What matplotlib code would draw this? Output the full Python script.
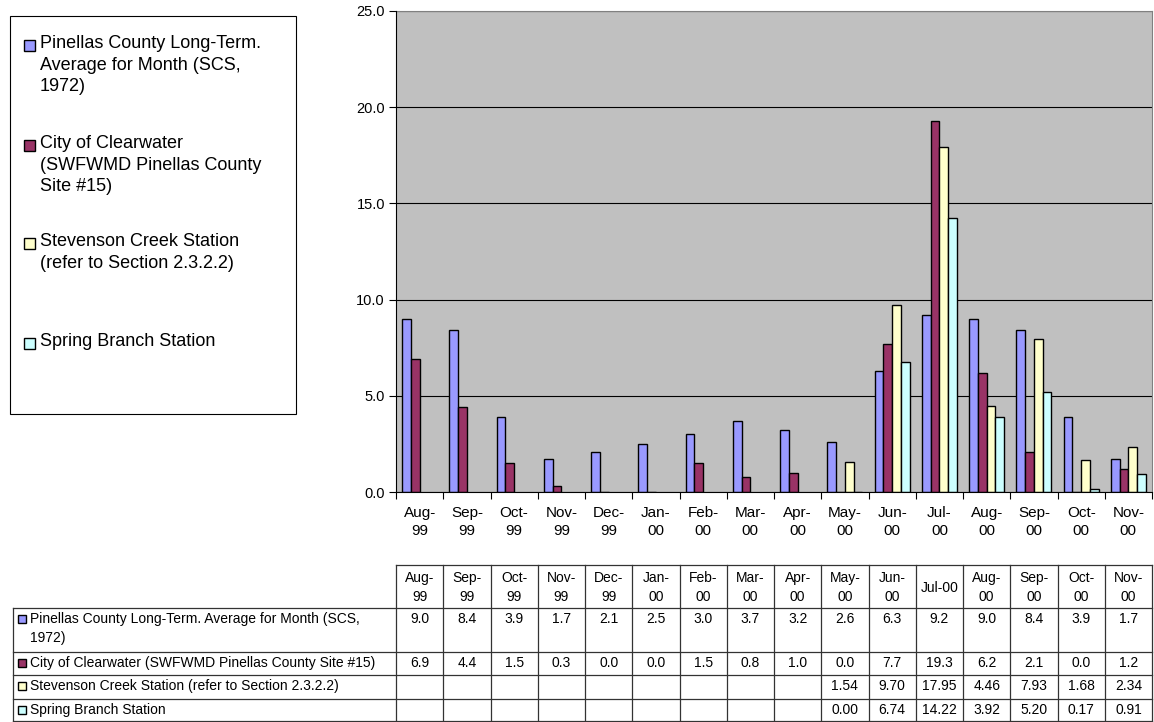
import matplotlib
matplotlib.use("Agg")
import matplotlib.pyplot as plt
from matplotlib.patches import Rectangle

plt.rcParams['font.family'] = ['Liberation Sans', 'DejaVu Sans']

# Monthly rainfall (inches), Aug 1999 - Nov 2000
months = ["Aug-99", "Sep-99", "Oct-99", "Nov-99", "Dec-99", "Jan-00", "Feb-00", "Mar-00",
          "Apr-00", "May-00", "Jun-00", "Jul-00", "Aug-00", "Sep-00", "Oct-00", "Nov-00"]
pinellas = [9.0, 8.4, 3.9, 1.7, 2.1, 2.5, 3.0, 3.7, 3.2, 2.6, 6.3, 9.2, 9.0, 8.4, 3.9, 1.7]
clearwater = [6.9, 4.4, 1.5, 0.3, 0.0, 0.0, 1.5, 0.8, 1.0, 0.0, 7.7, 19.3, 6.2, 2.1, 0.0, 1.2]
stevenson = [None] * 9 + [1.54, 9.70, 17.95, 4.46, 7.93, 1.68, 2.34]
spring = [None] * 9 + [0.00, 6.74, 14.22, 3.92, 5.20, 0.17, 0.91]

legend_labels = ["Pinellas County Long-Term.\nAverage for Month (SCS,\n1972)",
                 "City of Clearwater\n(SWFWMD Pinellas County\nSite #15)",
                 "Stevenson Creek Station\n(refer to Section 2.3.2.2)",
                 "Spring Branch Station"]
table_labels = ["Pinellas County Long-Term. Average for Month (SCS,\n1972)",
                "City of Clearwater (SWFWMD Pinellas County Site #15)",
                "Stevenson Creek Station (refer to Section 2.3.2.2)",
                "Spring Branch Station"]
colors = ["#9999FF", "#993366", "#FFFFCC", "#CCFFFF"]
series = [pinellas, clearwater, stevenson, spring]
decimals = [1, 1, 2, 2]

W, H = 1154, 722
fig = plt.figure(figsize=(W / 100, H / 100), dpi=100)

# --- bar chart ---
ax = fig.add_axes([396 / W, (H - 492) / H, 756 / W, 481 / H])
ax.set_facecolor("#C0C0C0")
n = len(months)
bw = 0.185
for k, (vals, col) in enumerate(zip(series, colors)):
    xs = [i + (k - 1.5) * bw for i, v in enumerate(vals) if v is not None]
    ys = [v for v in vals if v is not None]
    ax.bar(xs, ys, width=bw, color=col, edgecolor="black", linewidth=1.0, zorder=3)

ax.set_xlim(-0.5, n - 0.5)
ax.set_ylim(0, 25)
yt = [0, 5, 10, 15, 20, 25]
ax.set_yticks(yt)
ax.set_yticklabels([f"{t:.1f}" for t in yt], fontsize=10.5)
ax.yaxis.grid(True, color="black", linewidth=0.8, zorder=1)
ax.set_xticks(range(n))
ax.set_xticklabels([m.replace("-", "-\n") for m in months], fontsize=11, linespacing=1.35)
ax.set_xticks([i - 0.5 for i in range(n + 1)], minor=True)
ax.tick_params(axis="x", which="major", length=0, pad=10)
ax.tick_params(axis="x", which="minor", length=5, direction="out", width=0.8)
ax.tick_params(axis="y", length=5, direction="out", width=0.8, pad=3)
for s in ["top", "right"]:
    ax.spines[s].set_color("#808080")
for s in ["left", "bottom"]:
    ax.spines[s].set_color("black")
    ax.spines[s].set_zorder(4)

# --- legend box ---
fig.patches.append(Rectangle((10 / W, 1 - 414 / H), 286 / W, 398 / H, transform=fig.transFigure,
                             facecolor="white", edgecolor="black", linewidth=0.8))
entry_y = [45, 145, 243, 343]
for lab, col, yc in zip(legend_labels, colors, entry_y):
    fig.patches.append(Rectangle((24 / W, 1 - (yc + 6) / H), 11 / W, 11 / H, transform=fig.transFigure,
                                 facecolor=col, edgecolor="black", linewidth=1.0))
    fig.text(40 / W, 1 - (yc - 10) / H, lab, fontsize=13, va="top", ha="left", linespacing=1.36)

# --- data table under the chart ---
tax = fig.add_axes([396 / W, (H - 721) / H, 756 / W, 156 / H])
tax.set_xlim(-0.5, n - 0.5)
tax.set_ylim(156, 0)
tax.axis("off")
unit = 756 / n
left = -0.5 - (396 - 13) / unit
rows = [0, 43, 87, 110, 134, 156]
lc = "#333333"
lw = 0.9

def hline(x0, x1, y):
    tax.plot([x0, x1], [y, y], color=lc, linewidth=lw, clip_on=False)

def vline(x, y0, y1):
    tax.plot([x, x], [y0, y1], color=lc, linewidth=lw, clip_on=False)

hline(-0.5, n - 0.5, rows[0])
for y in rows[1:]:
    hline(left, n - 0.5, y)
vline(left, rows[1], rows[-1])
for i in range(n + 1):
    vline(i - 0.5, rows[0], rows[-1])

for i, m in enumerate(months):
    lab = m if m == "Jul-00" else m.replace("-", "-\n")
    tax.text(i, (rows[0] + rows[1]) / 2 + 1, lab, fontsize=10, ha="center", va="center", linespacing=1.45)

for r, (vals, col, lab, d) in enumerate(zip(series, colors, table_labels, decimals)):
    top = rows[r + 1]
    tax.text(left + 17 / unit, top + 4, lab, fontsize=10, ha="left", va="top", linespacing=1.45,
             clip_on=False)
    tax.add_patch(Rectangle((left + 5 / unit, top + 7), 8 / unit, 8, facecolor=col,
                            edgecolor="black", linewidth=1.0, clip_on=False))
    for i, v in enumerate(vals):
        if v is not None:
            tax.text(i, top + 4, f"{v:.{d}f}", fontsize=10, ha="center", va="top")

fig.savefig("out.png", dpi=100)
